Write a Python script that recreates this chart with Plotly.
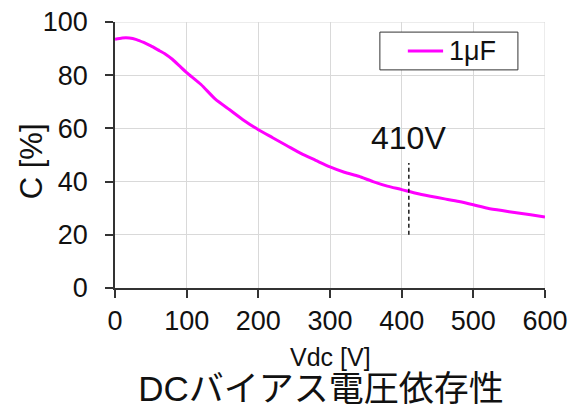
import plotly.graph_objects as go

# DC bias characteristic of a 1 µF capacitor
vdc = [0, 10, 20, 30, 40, 50, 60, 70, 80, 90, 100, 120, 140, 160, 180, 200,
       220, 240, 260, 280, 300, 320, 340, 360, 380, 400, 420, 440, 460, 480,
       500, 520, 540, 560, 580, 600]
cap_pct = [93.5, 94.0, 94.0, 93.4, 92.3, 91.0, 89.5, 88.0, 86.0, 83.5, 81.0,
           76.5, 71.0, 67.0, 63.0, 59.5, 56.5, 53.5, 50.5, 48.0, 45.5, 43.5,
           42.0, 40.0, 38.3, 37.0, 35.6, 34.5, 33.5, 32.5, 31.3, 30.0, 29.1,
           28.3, 27.5, 26.7]
series_name = "1μF"
series_color = "#ff00ff"

# Marker for the operating voltage
mark_v = 410
mark_range = [20, 47]
mark_label = "410V"

x_ticks = [0, 100, 200, 300, 400, 500, 600]
y_ticks = [0, 20, 40, 60, 80, 100]

FONT = "Liberation Sans, Arial, Noto Sans CJK JP, sans-serif"
GRID = "#d9d9d9"
AXIS = "#333333"
TEXT = "#111111"

fig = go.Figure()
fig.add_trace(go.Scatter(
    x=vdc, y=cap_pct, mode="lines", name=series_name, showlegend=False,
    line=dict(color=series_color, width=3, shape="spline", smoothing=0.6),
))
fig.add_trace(go.Scatter(
    x=[mark_v, mark_v], y=mark_range, mode="lines", showlegend=False,
    line=dict(color="#1a1a1a", width=1.5, dash="4px,3px"),
    hoverinfo="skip",
))
fig.add_annotation(
    x=mark_v, y=56.5, text=mark_label, showarrow=False,
    font=dict(family=FONT, size=32, color=TEXT),
    xanchor="center", yanchor="middle",
)

# Boxed legend key in the upper right of the plot area
fig.add_shape(type="rect", xref="paper", yref="paper",
              x0=0.616, x1=0.937, y0=0.820, y1=0.962,
              line=dict(color=AXIS, width=1), fillcolor="white", layer="above")
fig.add_shape(type="line", xref="paper", yref="paper",
              x0=0.681, x1=0.763, y0=0.891, y1=0.891,
              line=dict(color=series_color, width=3), layer="above")
fig.add_annotation(
    xref="paper", yref="paper", x=0.772, y=0.891, text=series_name,
    showarrow=False, xanchor="left", yanchor="middle",
    font=dict(family=FONT, size=27, color=TEXT),
)

# Axis titles
fig.add_annotation(
    xref="paper", yref="paper", x=-0.195, y=0.477, text="C [%]",
    showarrow=False, textangle=-90, xanchor="center", yanchor="middle",
    font=dict(family=FONT, size=31, color=TEXT),
)
fig.add_annotation(
    xref="paper", yref="paper", x=0.5, y=-0.259, text="Vdc [V]",
    showarrow=False, xanchor="center", yanchor="middle",
    font=dict(family=FONT, size=25, color=TEXT),
)

fig.update_layout(
    width=570, height=408,
    margin=dict(l=115, r=25, t=22, b=120),
    paper_bgcolor="white", plot_bgcolor="white",
    font=dict(family=FONT, color=TEXT),
    showlegend=False,
    title=dict(
        text="DCバイアス電圧依存性",
        font=dict(size=35, family=FONT),
        x=0.563, xanchor="center", y=0.047, yanchor="middle",
    ),
)

fig.update_xaxes(
    range=[0, 600], tickvals=x_ticks, automargin=False,
    showgrid=True, gridcolor=GRID, gridwidth=1,
    showline=True, linecolor=AXIS, linewidth=1.5,
    ticks="outside", ticklen=8, tickcolor=AXIS, tickwidth=1.5,
    tickfont=dict(size=27, family=FONT),
    zeroline=False,
)
fig.update_yaxes(
    range=[0, 100], tickvals=y_ticks, automargin=False,
    showgrid=True, gridcolor=GRID, gridwidth=1,
    showline=True, linecolor=AXIS, linewidth=1.5,
    ticks="outside", ticklen=8, tickcolor=AXIS, tickwidth=1.5,
    tickfont=dict(size=27, family=FONT),
    ticklabelstandoff=12,
    zeroline=False,
)

# Top and right grid borders at 100 and 600
fig.add_shape(type="line", xref="x", yref="y", x0=0, x1=600, y0=100, y1=100,
              line=dict(color=GRID, width=1), layer="below")
fig.add_shape(type="line", xref="x", yref="y", x0=600, x1=600, y0=0, y1=100,
              line=dict(color=GRID, width=1), layer="below")

fig.write_html("out.html")
